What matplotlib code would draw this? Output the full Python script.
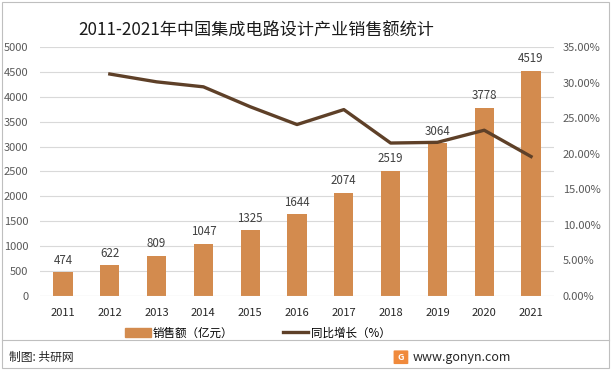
import matplotlib.pyplot as plt
from matplotlib.patches import Rectangle, FancyBboxPatch
from matplotlib.lines import Line2D
from matplotlib.ticker import FuncFormatter, MultipleLocator
import numpy as np

plt.rcParams['font.family'] = ['Noto Sans CJK SC', 'DejaVu Sans']

# data
years = ["2011", "2012", "2013", "2014", "2015", "2016",
         "2017", "2018", "2019", "2020", "2021"]
sales = [474, 622, 809, 1047, 1325, 1644, 2074, 2519, 3064, 3778, 4519]
growth = [np.nan, 31.2, 30.1, 29.4, 26.6, 24.1, 26.2, 21.5, 21.6, 23.3, 19.6]

BAR = "#D38B4E"
LINE = "#5E4028"
GRID = "#D9D9D9"
TXT = "#595959"

fig = plt.figure(figsize=(6.14, 3.70), dpi=100)
ax = fig.add_axes([0.0645, 0.200, 0.8385, 0.673])
ax2 = ax.twinx()

x = np.arange(len(years))
ax.bar(x, sales, width=0.41, color=BAR, zorder=2)
for xi, v in zip(x, sales):
    ax.text(xi, v + 110, str(v), ha="center", va="bottom",
            fontsize=8.3, color="#404040")

ax.set_xlim(-0.5, len(years) - 0.5)
ax.set_ylim(0, 5000)
ax.yaxis.set_major_locator(MultipleLocator(500))
ax.grid(axis="y", color=GRID, linewidth=0.8, zorder=0)
ax.set_axisbelow(True)
ax.set_xticks(x)
ax.set_xticklabels(years)
ax.tick_params(axis="both", length=0, labelsize=8, labelcolor=TXT)
ax.tick_params(axis="x", pad=9, labelcolor="#262626")
ax.tick_params(axis="y", pad=8)

ax2.plot(x, growth, color=LINE, linewidth=2.4, zorder=3)
ax2.set_ylim(0, 35)
ax2.yaxis.set_major_locator(MultipleLocator(5))
ax2.yaxis.set_major_formatter(FuncFormatter(lambda v, p: f"{v:.2f}%"))
ax2.tick_params(axis="y", length=0, labelsize=8, labelcolor=TXT, pad=6)

for a in (ax, ax2):
    for s in a.spines.values():
        s.set_visible(False)
ax.axhline(0, color=GRID, linewidth=0.8)

# title
fig.text(0.417, 0.916, "2011-2021年中国集成电路设计产业销售额统计",
         ha="center", va="center", fontsize=12.3, color="#1a1a1a")

# legend
handles = [Rectangle((0, 0), 1, 1, color=BAR),
           Line2D([0], [0], color=LINE, linewidth=2.4)]
fig.legend(handles, ["销售额（亿元）", "同比增长（%）"],
           loc="center", bbox_to_anchor=(0.42, 0.1), ncol=2,
           frameon=False, fontsize=8.3, handlelength=2.2,
           handleheight=0.7, columnspacing=4.3, handletextpad=0.2)

# frame and footer
fig.add_artist(Rectangle((0.004, 0.006), 0.988, 0.988, transform=fig.transFigure,
                         fill=False, edgecolor="#BFBFBF", linewidth=0.8))
fig.add_artist(Line2D([0.004, 0.992], [0.081, 0.081], transform=fig.transFigure,
                      color="#BFBFBF", linewidth=0.8))
fig.text(0.015, 0.035, "制图: 共研网", ha="left", va="center",
         fontsize=8.5, color="#262626")
fig.add_artist(FancyBboxPatch((0.643, 0.018), 0.02, 0.033,
                              boxstyle="round,pad=0.002",
                              transform=fig.transFigure,
                              facecolor="#F08A3C", edgecolor="none"))
fig.text(0.653, 0.035, "G", ha="center", va="center", fontsize=6.5,
         color="white", fontweight="bold")
fig.text(0.672, 0.035, "www.gonyn.com", ha="left", va="center",
         fontsize=9, color="#262626")

fig.savefig("out.png", dpi=100)
